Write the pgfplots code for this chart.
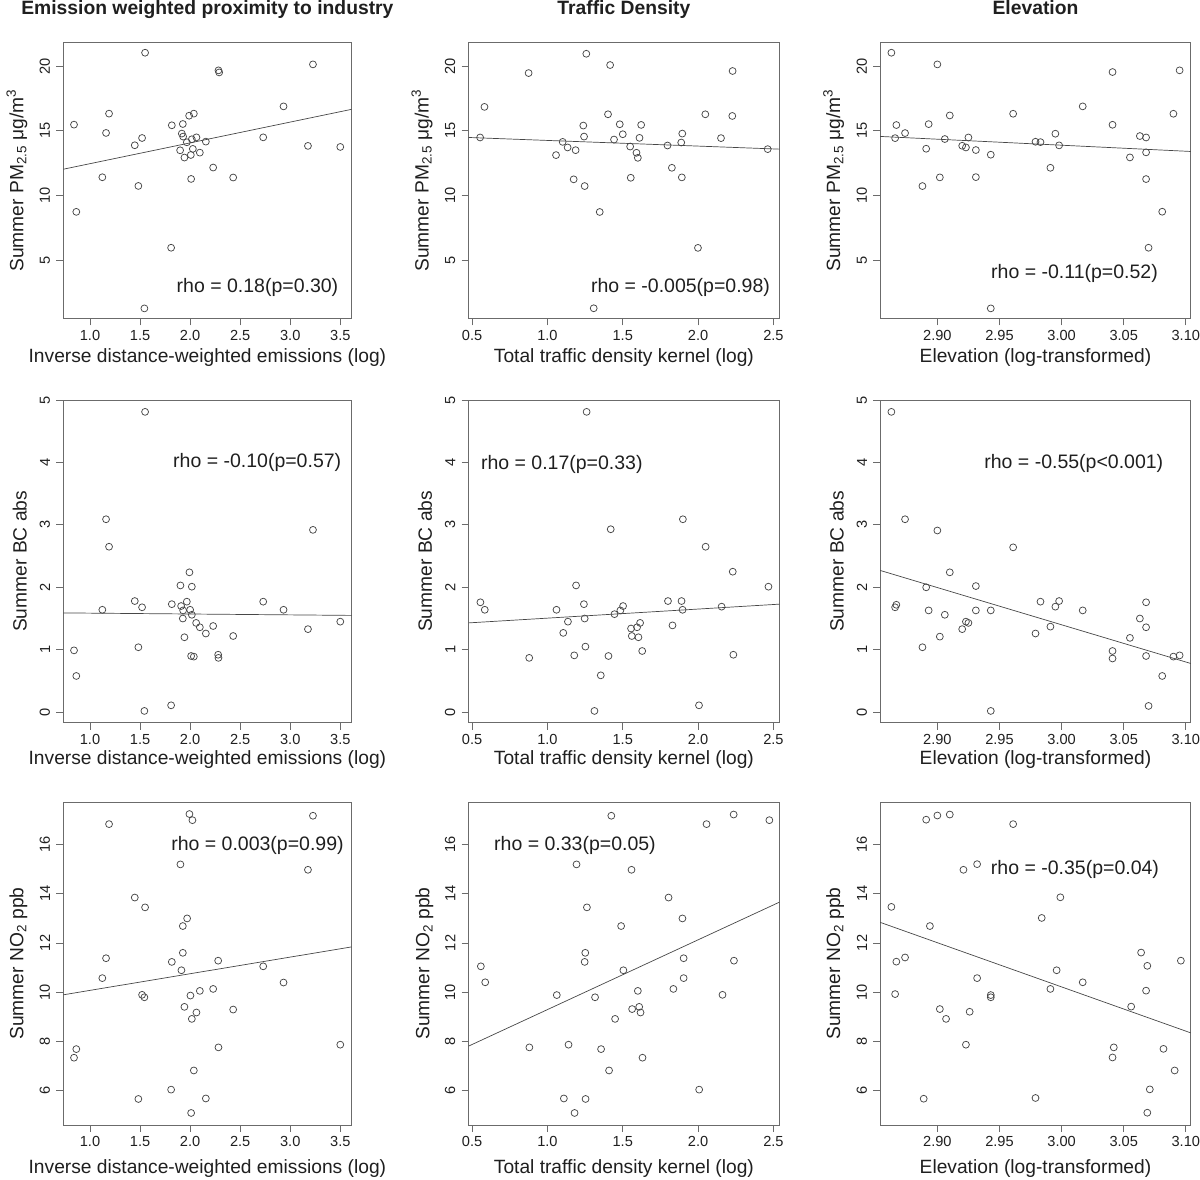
\documentclass[border=0pt]{standalone}
\usepackage{pgfplots}
\pgfplotsset{compat=1.18}
\usepackage{fontspec}
\setmainfont{Liberation Sans}
\definecolor{ptc}{gray}{0.28}
\definecolor{boxc}{gray}{0.42}
\definecolor{txt}{gray}{0.12}
\newcommand\tickf{\fontsize{14.6}{14.6}\selectfont}
\newcommand\labf{\fontsize{19.2}{19.2}\selectfont}
\newcommand\rhof{\fontsize{19.5}{19.5}\selectfont}
\newcommand\ttlf{\fontsize{19.3}{19.3}\selectfont\bfseries}
\pgfplotsset{
  panel/.style={
    scale only axis, anchor=south west,
    axis line style={boxc, line width=0.8pt},
    tick style={boxc, line width=0.8pt},
    tick align=outside, major tick length=7pt,
    tick pos=left, minor tick num=0, scaled ticks=false,
    every tick label/.append style={font=\tickf, text=txt, inner sep=0pt},
    /pgf/number format/assume math mode=true,
    xticklabel shift=4.5pt,
    yticklabel style={rotate=90, anchor=south},
    yticklabel shift=6pt,
    label style={font=\labf, text=txt, inner sep=0pt},
    xlabel style={anchor=base},
    ylabel style={anchor=base},
  },
  col1/.style={width=288.2pt, xmin=0.733, xmax=3.612, xtick={1,1.5,2,2.5,3,3.5},
    xticklabel style={/pgf/number format/.cd, fixed, fixed zerofill, precision=1},
    xlabel={Inverse distance-weighted emissions (log)}},
  col2/.style={width=310.8pt, xmin=0.476, xmax=2.539, xtick={0.5,1,1.5,2,2.5},
    xticklabel style={/pgf/number format/.cd, fixed, fixed zerofill, precision=1},
    xlabel={Total traffic density kernel (log)}},
  col3/.style={width=310.6pt, xmin=2.854, xmax=3.104, xtick={2.9,2.95,3,3.05,3.1},
    xticklabel style={/pgf/number format/.cd, fixed, fixed zerofill, precision=2},
    xlabel={Elevation (log-transformed)}},
  row1/.style={height=276pt, ymin=0.52, ymax=21.82, ytick={5,10,15,20},
    ylabel={Summer PM\textsubscript{2.5} μg/m\textsuperscript{3}},
    xlabel style={at={(axis description cs:0.5,-0.1612)}}},
  row2/.style={height=322.8pt, ymin=-0.17, ymax=5.0, ytick={0,1,2,3,4,5},
    ylabel={Summer BC abs},
    xlabel style={at={(axis description cs:0.5,-0.1307)}}},
  row3/.style={height=323pt, ymin=4.59, ymax=17.74, ytick={6,8,10,12,14,16},
    ylabel={Summer NO\textsubscript{2} ppb},
    xlabel style={at={(axis description cs:0.5,-0.1486)}}},
  pts/.style={only marks, mark=o, mark size=3.45pt, draw=ptc, mark options={line width=0.75pt}},
  fit/.style={no marks, draw=ptc, line width=0.7pt},
}
\begin{document}
\begin{tikzpicture}
\path[use as bounding box] (0,0) rectangle (1200pt,1179pt);

% ---------- Row 1 : PM2.5 ----------
\begin{axis}[panel, col1, row1, at={(63.3pt,860.5pt)},
  ylabel style={at={(axis description cs:-0.1388,0.5)}}]
\addplot[pts] coordinates {(1.55,21.03) (2.283,19.67) (2.29,19.51) (3.227,20.13) (2.933,16.89) (1.19,16.33) (0.84,15.48) (1.16,14.84) (1.447,13.89) (1.52,14.45) (1.817,15.43) (1.927,15.53) (1.99,16.17) (2.037,16.33) (1.917,14.79) (1.93,14.56) (1.967,14.12) (2.017,14.35) (2.063,14.50) (2.157,14.17) (1.90,13.50) (2.027,13.61) (2.007,13.14) (1.943,12.94) (2.097,13.32) (2.23,12.17) (2.73,14.50) (3.177,13.84) (3.50,13.76) (1.123,11.42) (1.483,10.75) (2.01,11.29) (2.43,11.40) (0.863,8.75) (1.81,5.98) (1.543,1.30)};
\addplot[fit] coordinates {(0.733,12.04) (3.612,16.66)};
\end{axis}

\begin{axis}[panel, col2, row1, at={(468.5pt,860.5pt)},
  ylabel style={at={(axis description cs:-0.1287,0.5)}}]
\addplot[pts] coordinates {(1.258,20.95) (1.416,20.08) (0.875,19.46) (2.229,19.62) (0.582,16.85) (1.402,16.28) (2.048,16.28) (2.227,16.15) (1.238,15.41) (1.48,15.51) (1.622,15.46) (1.895,14.79) (0.553,14.49) (1.243,14.56) (1.5,14.74) (1.442,14.33) (1.611,14.46) (2.152,14.44) (1.101,14.15) (1.134,13.72) (1.187,13.51) (1.549,13.79) (1.797,13.87) (1.888,14.10) (2.462,13.59) (1.057,13.13) (1.591,13.31) (1.6,12.92) (1.826,12.15) (1.174,11.26) (1.553,11.38) (1.892,11.41) (1.247,10.74) (1.347,8.74) (1.999,5.97) (1.307,1.31)};
\addplot[fit] coordinates {(0.476,14.49) (2.539,13.59)};
\end{axis}

\begin{axis}[panel, col3, row1, at={(880.2pt,860.5pt)},
  ylabel style={at={(axis description cs:-0.1287,0.5)}}]
\addplot[pts] coordinates {(2.863,21.03) (2.90,20.13) (3.041,19.54) (3.095,19.67) (3.017,16.89) (3.09,16.32) (2.91,16.19) (2.961,16.32) (2.867,15.45) (2.893,15.52) (3.041,15.47) (2.874,14.83) (2.866,14.44) (2.906,14.37) (2.925,14.49) (2.995,14.78) (3.063,14.60) (3.068,14.49) (2.979,14.16) (2.983,14.13) (2.92,13.85) (2.923,13.72) (2.998,13.88) (2.891,13.62) (2.931,13.52) (2.943,13.16) (3.068,13.34) (3.055,12.95) (2.991,12.15) (2.888,10.74) (2.902,11.41) (2.931,11.43) (3.068,11.28) (3.081,8.76) (3.07,5.98) (2.943,1.30)};
\addplot[fit] coordinates {(2.854,14.57) (3.104,13.41)};
\end{axis}

% ---------- Row 2 : BC ----------
\begin{axis}[panel, col1, row2, at={(63.3pt,456.2pt)},
  ylabel style={at={(axis description cs:-0.127,0.5)}}]
\addplot[pts] coordinates {(1.55,4.81) (1.16,3.09) (1.19,2.65) (3.227,2.92) (1.993,2.24) (1.903,2.03) (2.017,2.01) (1.447,1.78) (1.52,1.68) (1.817,1.73) (1.967,1.77) (1.91,1.70) (1.93,1.63) (2.0,1.64) (2.017,1.56) (1.123,1.64) (2.73,1.77) (2.933,1.64) (1.927,1.50) (2.06,1.43) (2.097,1.36) (2.23,1.38) (2.157,1.26) (1.943,1.20) (2.43,1.22) (3.177,1.33) (3.50,1.45) (1.483,1.04) (0.84,0.99) (2.01,0.90) (2.037,0.89) (2.28,0.92) (2.283,0.87) (0.863,0.58) (1.81,0.11) (1.543,0.02)};
\addplot[fit] coordinates {(0.733,1.59) (3.612,1.55)};
\end{axis}

\begin{axis}[panel, col2, row2, at={(468.5pt,456.2pt)},
  ylabel style={at={(axis description cs:-0.1178,0.5)}}]
\addplot[pts] coordinates {(1.26,4.81) (1.42,2.93) (1.899,3.09) (2.05,2.65) (2.23,2.25) (2.467,2.01) (1.19,2.03) (0.555,1.76) (0.584,1.64) (1.06,1.64) (1.242,1.73) (1.502,1.70) (1.484,1.63) (1.445,1.57) (1.8,1.78) (1.89,1.78) (1.897,1.64) (2.156,1.69) (1.247,1.50) (1.136,1.45) (1.105,1.27) (1.555,1.34) (1.595,1.36) (1.615,1.43) (1.56,1.22) (1.604,1.20) (1.83,1.39) (1.252,1.05) (1.629,0.98) (1.178,0.91) (1.405,0.90) (2.234,0.92) (0.879,0.87) (1.354,0.59) (2.006,0.11) (1.312,0.02)};
\addplot[fit] coordinates {(0.476,1.43) (2.539,1.73)};
\end{axis}

\begin{axis}[panel, col3, row2, at={(880.2pt,456.2pt)},
  ylabel style={at={(axis description cs:-0.1178,0.5)}}]
\addplot[pts] coordinates {(2.863,4.81) (2.874,3.09) (2.90,2.91) (2.961,2.64) (2.91,2.24) (2.891,2.0) (2.931,2.02) (2.867,1.72) (2.866,1.68) (2.893,1.63) (2.931,1.63) (2.943,1.63) (2.906,1.56) (2.983,1.77) (2.998,1.78) (2.995,1.69) (3.017,1.63) (3.068,1.76) (3.063,1.50) (3.068,1.36) (2.923,1.45) (2.925,1.43) (2.92,1.33) (2.979,1.26) (2.991,1.37) (2.902,1.21) (3.055,1.19) (2.888,1.04) (3.041,0.98) (3.041,0.86) (3.068,0.90) (3.09,0.89) (3.095,0.91) (3.081,0.58) (3.07,0.10) (2.943,0.02)};
\addplot[fit] coordinates {(2.854,2.27) (3.104,0.78)};
\end{axis}

% ---------- Row 3 : NO2 ----------
\begin{axis}[panel, col1, row3, at={(63.3pt,54pt)},
  ylabel style={at={(axis description cs:-0.1388,0.5)}}]
\addplot[pts] coordinates {(1.993,17.25) (2.023,17.0) (3.227,17.18) (1.19,16.84) (1.903,15.2) (3.177,14.98) (1.447,13.85) (1.55,13.45) (1.97,13.0) (1.927,12.69) (1.927,11.6) (1.16,11.38) (1.817,11.23) (2.28,11.28) (2.73,11.05) (1.913,10.89) (1.123,10.57) (2.933,10.39) (2.097,10.05) (2.23,10.13) (1.52,9.89) (1.543,9.79) (2.003,9.86) (1.943,9.40) (2.063,9.17) (2.43,9.29) (2.017,8.91) (2.283,7.75) (3.50,7.86) (0.863,7.68) (0.84,7.33) (2.037,6.81) (1.81,6.03) (1.483,5.65) (2.157,5.67) (2.01,5.08)};
\addplot[fit] coordinates {(0.733,9.89) (3.612,11.84)};
\end{axis}

\begin{axis}[panel, col2, row3, at={(468.5pt,54pt)},
  ylabel style={at={(axis description cs:-0.1256,0.5)}}]
\addplot[pts] coordinates {(1.424,17.18) (2.236,17.23) (2.056,16.84) (2.473,17.0) (1.193,15.2) (1.558,14.98) (1.804,13.85) (1.262,13.45) (1.896,13.0) (1.489,12.69) (1.251,11.60) (1.247,11.23) (1.904,11.38) (2.238,11.28) (0.558,11.05) (1.504,10.89) (0.587,10.40) (1.904,10.57) (1.062,9.88) (1.316,9.79) (1.6,10.05) (1.836,10.13) (2.162,9.89) (1.562,9.31) (1.609,9.40) (1.618,9.17) (1.449,8.91) (0.88,7.75) (1.14,7.86) (1.356,7.68) (1.631,7.33) (1.409,6.81) (2.007,6.03) (1.109,5.67) (1.253,5.65) (1.18,5.08)};
\addplot[fit] coordinates {(0.476,7.80) (2.539,13.66)};
\end{axis}

\begin{axis}[panel, col3, row3, at={(880.2pt,54pt)},
  ylabel style={at={(axis description cs:-0.1287,0.5)}}]
\addplot[pts] coordinates {(2.891,17.02) (2.90,17.19) (2.91,17.23) (2.961,16.84) (2.921,14.98) (2.932,15.21) (2.863,13.47) (2.894,12.69) (2.999,13.86) (2.984,13.02) (2.867,11.24) (2.874,11.41) (2.866,9.92) (3.064,11.61) (3.069,11.07) (3.096,11.28) (2.996,10.89) (2.932,10.57) (3.017,10.40) (2.991,10.13) (3.068,10.06) (2.943,9.88) (2.943,9.79) (2.902,9.31) (2.907,8.91) (2.926,9.20) (3.056,9.41) (2.923,7.86) (3.042,7.75) (3.041,7.34) (3.082,7.69) (3.091,6.81) (3.071,6.04) (2.889,5.66) (2.979,5.69) (3.069,5.09)};
\addplot[fit] coordinates {(2.854,12.84) (3.104,8.34)};
\end{axis}

% ---------- column titles ----------
\node[anchor=base, font=\ttlf, text=txt, inner sep=0pt] at (207.4pt,1164pt) {Emission weighted proximity to industry};
\node[anchor=base, font=\ttlf, text=txt, inner sep=0pt] at (623.9pt,1164pt) {Traffic Density};
\node[anchor=base, font=\ttlf, text=txt, inner sep=0pt] at (1035.5pt,1164pt) {Elevation};

% ---------- correlation annotations ----------
\begin{scope}[every node/.style={anchor=base, font=\rhof, text=txt, inner sep=0pt}]
\node at (257.5pt,886.5pt) {rho = 0.18(p=0.30)};
\node at (680.5pt,886.3pt) {rho = -0.005(p=0.98)};
\node at (1074.5pt,900.7pt) {rho = -0.11(p=0.52)};
\node at (257.2pt,711.7pt) {rho = -0.10(p=0.57)};
\node at (561.8pt,709.7pt) {rho = 0.17(p=0.33)};
\node at (1073.8pt,710.7pt) {rho = -0.55(p<0.001)};
\node at (257.5pt,328pt) {rho = 0.003(p=0.99)};
\node at (575pt,328pt) {rho = 0.33(p=0.05)};
\node at (1075pt,304.7pt) {rho = -0.35(p=0.04)};
\end{scope}
\end{tikzpicture}
\end{document}
